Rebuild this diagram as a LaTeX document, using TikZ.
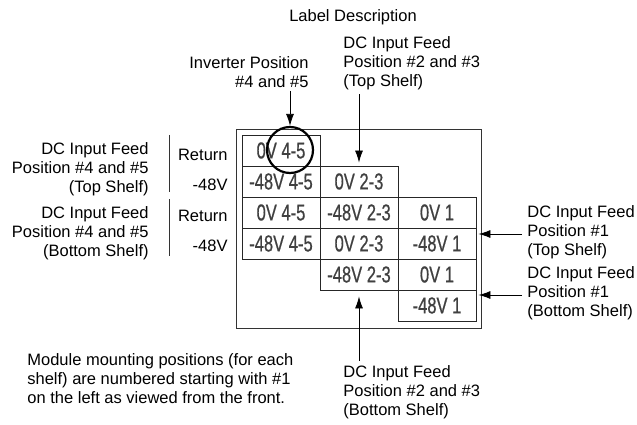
\documentclass[tikz,border=0pt]{standalone}
\usepackage{fontspec}
\setmainfont{Liberation Sans}
\newfontfamily\cellfont[FakeStretch=0.72,FakeBold=0.6]{Liberation Sans}
\usetikzlibrary{arrows.meta,positioning,calc}

\begin{document}
\begin{tikzpicture}
  [
  x=1pt, y=-1pt,
  font=\fontsize{16.5}{19}\selectfont,
  line width=0.8pt,
  >={Latex[length=12pt,width=8pt]},
  lbl/.style={inner sep=0pt},
  cell/.style={rectangle, draw=black!85, line width=0.9pt, inner sep=0pt,
    minimum width=78pt, minimum height=31pt,
    font=\cellfont\fontsize{23}{23}\selectfont, text=black!75},
  arr/.style={->, draw=black},
  ]
\useasboundingbox (0,0) rectangle (637,425);

% title
\node[lbl] (title) at (353,17) {Label Description};

% outer frame
\node[draw=black!80, line width=0.9pt, minimum width=245pt, minimum height=199pt, inner sep=0pt] (frame) at (358.5,228.5) {};

% label cells
\node[cell] (c11) at (281,150.5) {0V 4-5};
\node[cell] (c21) at (281,181.5) {-48V 4-5};
\node[cell] (c22) at (359,181.5) {0V 2-3};
\node[cell] (c31) at (281,212.5) {0V 4-5};
\node[cell] (c32) at (359,212.5) {-48V 2-3};
\node[cell] (c33) at (437,212.5) {0V 1};
\node[cell] (c41) at (281,243.5) {-48V 4-5};
\node[cell] (c42) at (359,243.5) {0V 2-3};
\node[cell] (c43) at (437,243.5) {-48V 1};
\node[cell] (c52) at (359,274.5) {-48V 2-3};
\node[cell] (c53) at (437,274.5) {0V 1};
\node[cell] (c63) at (437,305.5) {-48V 1};

% inverter circle
\node[circle, draw=black, line width=2.2pt, minimum size=46pt, inner sep=0pt] (circ) at (290,150) {};

% left side
\node[lbl, anchor=east, align=right] (feedtop) at (149,169) {DC Input Feed\\Position \#4 and \#5\\(Top Shelf)};
\node[lbl, anchor=east, align=right] (feedbot) at (149,233) {DC Input Feed\\Position \#4 and \#5\\(Bottom Shelf)};
\draw[draw=black!80] (169,135) -- (169,192);
\draw[draw=black!80] (169,199) -- (169,256);
\node[lbl, anchor=east] (rettop) at (228,155) {Return};
\node[lbl, anchor=east] (negtop) at (228,185) {-48V};
\node[lbl, anchor=east] (retbot) at (228,216) {Return};
\node[lbl, anchor=east] (negbot) at (228,246) {-48V};

% top labels
\node[lbl, anchor=east, align=right] (inv) at (309,72) {Inverter Position\\\#4 and \#5};
\node[lbl, anchor=west, align=left] (dctop) at (343,63) {DC Input Feed\\Position \#2 and \#3\\(Top Shelf)};
\draw[arr] ([yshift=-3pt]inv.south -| circ.north) -- (circ.north);
\draw[arr, shorten >=3pt] ([yshift=-4pt]dctop.south -| c22.north) -- (c22.north);

% right labels
\node[lbl, anchor=west, align=left] (onetop) at (527,232) {DC Input Feed\\Position \#1\\(Top Shelf)};
\node[lbl, anchor=west, align=left] (onebot) at (527,293) {DC Input Feed\\Position \#1\\(Bottom Shelf)};
\draw[arr] ([xshift=-5pt,yshift=-2pt]onetop.west) -- ([xshift=-3pt,yshift=-2pt]onetop.west -| frame.east);
\draw[arr] ([xshift=-5pt,yshift=-2pt]onebot.west) -- ([xshift=-3pt,yshift=-2pt]onebot.west -| frame.east);

% bottom labels
\node[lbl, anchor=west, align=left] (dcbot) at (343,392) {DC Input Feed\\Position \#2 and \#3\\(Bottom Shelf)};
\draw[arr, shorten >=6pt] ([yshift=4pt]dcbot.north -| c52.south) -- (c52.south);
\node[lbl, anchor=west, align=left] (note) at (27,379) {Module mounting positions (for each\\shelf) are numbered starting with \#1\\on the left as viewed from the front.};
\end{tikzpicture}
\end{document}
